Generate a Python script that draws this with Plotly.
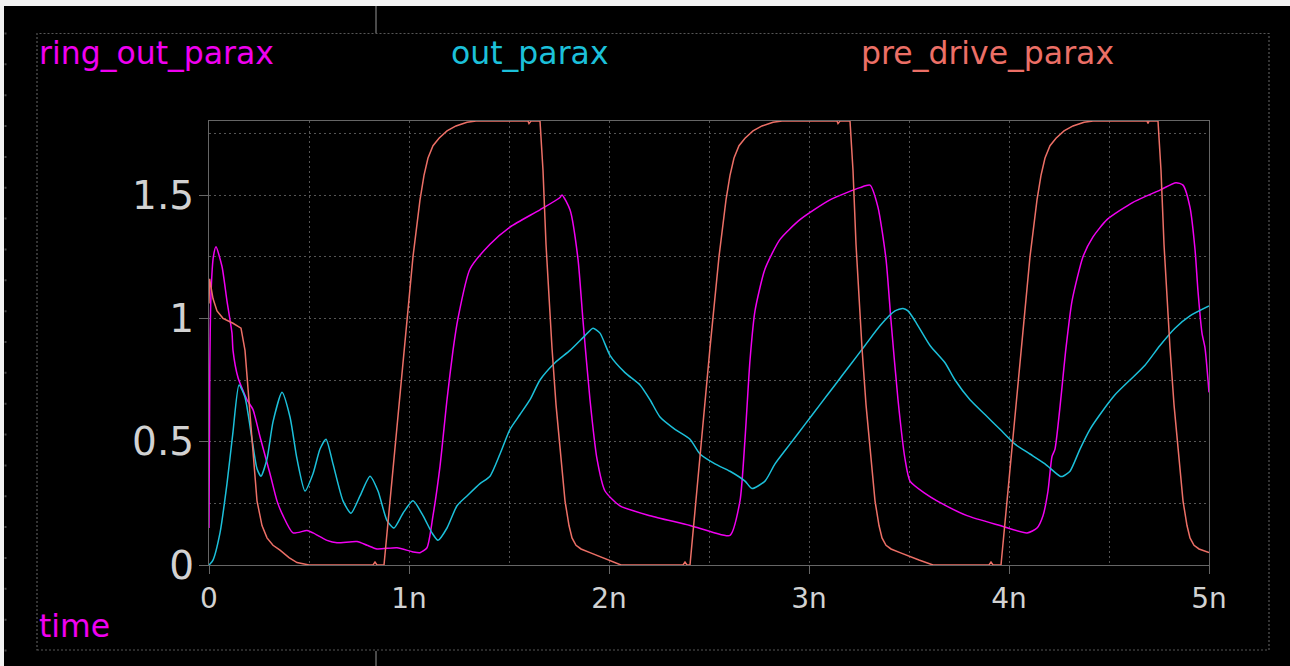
import plotly.graph_objects as go

# ---- series (time in ns, value in V) ----
series_names = ["ring_out_parax", "out_parax", "pre_drive_parax"]
series_colors = ["#f000f0", "#1cc0da", "#ec6f66"]

ring_t = [0.0, 0.004, 0.01, 0.022, 0.035, 0.065, 0.09, 0.115, 0.12, 0.145, 0.19, 0.22,
          0.255, 0.305, 0.34, 0.37, 0.42, 0.49, 0.52, 0.59, 0.64, 0.74, 0.79, 0.84,
          0.94, 1.02, 1.055, 1.09, 1.12, 1.155, 1.19, 1.22, 1.245, 1.305, 1.405, 1.505,
          1.655, 1.755, 1.765, 1.805, 1.845, 1.87, 1.905, 1.94, 1.98, 2.055, 2.205,
          2.405, 2.53, 2.605, 2.655, 2.68, 2.705, 2.73, 2.78, 2.855, 2.955, 3.105,
          3.255, 3.305, 3.345, 3.385, 3.41, 3.445, 3.48, 3.505, 3.58, 3.64, 3.79,
          3.955, 4.09, 4.14, 4.17, 4.195, 4.215, 4.23, 4.285, 4.315, 4.37, 4.42, 4.49,
          4.62, 4.755, 4.835, 4.87, 4.905, 4.93, 4.945, 4.965, 4.98, 5.0]
ring_v = [0.15, 0.8, 1.1, 1.25, 1.29, 1.21, 1.07, 0.94, 0.87, 0.76, 0.67, 0.63,
          0.52, 0.37, 0.26, 0.2, 0.13, 0.14, 0.13, 0.1, 0.09, 0.095, 0.08, 0.065,
          0.07, 0.053, 0.05, 0.07, 0.2, 0.4, 0.67, 0.87, 1.0, 1.2, 1.3, 1.37,
          1.44, 1.49, 1.5, 1.44, 1.24, 0.99, 0.67, 0.43, 0.3, 0.24, 0.2,
          0.16, 0.13, 0.12, 0.26, 0.51, 0.83, 1.03, 1.2, 1.32, 1.4, 1.48,
          1.53, 1.54, 1.45, 1.24, 0.99, 0.67, 0.43, 0.34, 0.29, 0.26, 0.2,
          0.16, 0.13, 0.15, 0.2, 0.3, 0.44, 0.47, 0.88, 1.07, 1.25, 1.33, 1.4,
          1.47, 1.52, 1.55, 1.54, 1.45, 1.28, 1.11, 0.94, 0.88, 0.7]

out_t = [0.0, 0.02, 0.055, 0.09, 0.12, 0.15, 0.18, 0.215, 0.24, 0.26, 0.29, 0.32,
         0.365, 0.405, 0.44, 0.48, 0.52, 0.555, 0.585, 0.62, 0.67, 0.71, 0.755,
         0.805, 0.845, 0.89, 0.925, 0.97, 1.02, 1.07, 1.115, 1.145, 1.19, 1.24,
         1.29, 1.355, 1.405, 1.455, 1.505, 1.555, 1.605, 1.655, 1.73, 1.805, 1.88,
         1.92, 1.955, 2.005, 2.08, 2.155, 2.205, 2.255, 2.33, 2.405, 2.455, 2.53,
         2.605, 2.68, 2.715, 2.78, 2.83, 2.905, 2.98, 3.055, 3.13, 3.205, 3.28,
         3.355, 3.43, 3.47, 3.495, 3.53, 3.605, 3.68, 3.73, 3.805, 3.88, 3.955,
         4.03, 4.105, 4.18, 4.255, 4.27, 4.305, 4.355, 4.405, 4.455, 4.53, 4.605,
         4.68, 4.755, 4.83, 4.905, 5.0]
out_v = [0.0, 0.02, 0.13, 0.33, 0.54, 0.73, 0.68, 0.51, 0.39, 0.36, 0.43, 0.58,
         0.7, 0.6, 0.43, 0.3, 0.37, 0.47, 0.51, 0.41, 0.26, 0.21, 0.28,
         0.36, 0.3, 0.18, 0.15, 0.21, 0.26, 0.2, 0.13, 0.1, 0.15, 0.24,
         0.28, 0.33, 0.36, 0.45, 0.55, 0.61, 0.67, 0.75, 0.82, 0.87, 0.93,
         0.96, 0.94, 0.85, 0.78, 0.73, 0.67, 0.6, 0.55, 0.51, 0.45, 0.41,
         0.38, 0.34, 0.31, 0.34, 0.41, 0.49, 0.57, 0.65, 0.73, 0.81, 0.89,
         0.97, 1.03, 1.04, 1.03, 0.99, 0.89, 0.82, 0.75, 0.67, 0.61, 0.55,
         0.49, 0.45, 0.41, 0.36, 0.36, 0.38, 0.47, 0.55, 0.61, 0.69, 0.75,
         0.81, 0.89, 0.96, 1.01, 1.05]

pre_t = [0.0, 0.003, 0.02, 0.04, 0.07, 0.12, 0.16, 0.18, 0.215, 0.24, 0.265, 0.29,
         0.32, 0.355, 0.40, 0.44, 0.5, 0.82, 0.83, 0.84, 0.875,
         0.975, 1.02, 1.055, 1.075, 1.095, 1.12, 1.15, 1.19, 1.235, 1.29, 1.335,
         1.595, 1.6, 1.61, 1.655, 1.67, 1.685, 1.70, 1.715, 1.735, 1.755, 1.78,
         1.80, 1.815, 1.835, 1.86, 1.905, 1.95, 2.0, 2.06,
         2.37, 2.38, 2.39, 2.405,
         2.505, 2.55, 2.585, 2.605, 2.625, 2.65, 2.68, 2.72, 2.765, 2.82, 2.865,
         3.14, 3.145, 3.155, 3.205, 3.22, 3.235, 3.25, 3.265, 3.285, 3.305, 3.33,
         3.35, 3.365, 3.385, 3.41, 3.455, 3.50, 3.55, 3.62,
         3.9, 3.91, 3.92, 3.96,
         4.06, 4.105, 4.14, 4.16, 4.18, 4.205, 4.235, 4.275, 4.32, 4.375, 4.42,
         4.69, 4.695, 4.70, 4.745, 4.76, 4.775, 4.79, 4.805, 4.825, 4.845, 4.87,
         4.89, 4.905, 4.925, 4.95, 5.0]
pre_v = [1.06, 1.16, 1.08, 1.03, 1.0, 0.98, 0.96, 0.87, 0.51, 0.26, 0.16, 0.11,
         0.08, 0.06, 0.03, 0.01, 0.0, 0.0, 0.012, 0.0, 0.0,
         0.88, 1.25, 1.48, 1.58, 1.65, 1.70, 1.73, 1.76, 1.78, 1.795, 1.8,
         1.8, 1.79, 1.8, 1.8, 1.6, 1.3, 1.07, 0.88, 0.65, 0.47, 0.26,
         0.16, 0.11, 0.08, 0.065, 0.05, 0.035, 0.02, 0.0,
         0.0, 0.012, 0.0, 0.0,
         0.88, 1.25, 1.48, 1.58, 1.65, 1.70, 1.73, 1.76, 1.78, 1.795, 1.8,
         1.8, 1.79, 1.8, 1.8, 1.6, 1.3, 1.07, 0.88, 0.65, 0.47, 0.26,
         0.16, 0.11, 0.08, 0.065, 0.05, 0.035, 0.02, 0.0,
         0.0, 0.012, 0.0, 0.0,
         0.88, 1.25, 1.48, 1.58, 1.65, 1.70, 1.73, 1.76, 1.78, 1.795, 1.8,
         1.8, 1.79, 1.8, 1.8, 1.6, 1.3, 1.07, 0.88, 0.65, 0.47, 0.26,
         0.16, 0.11, 0.08, 0.065, 0.05]

x_tick_vals = [0, 1, 2, 3, 4, 5]
x_tick_text = ["0", "1n", "2n", "3n", "4n", "5n"]
y_tick_vals = [0, 0.5, 1, 1.5]
y_tick_text = ["0", "0.5", "1", "1.5"]
x_axis_name = "time"

# ---- geometry ----
W, H = 1290, 666
ML, MR, MT, MB = 209, 81, 121, 101
PW, PH = W - ML - MR, H - MT - MB


def px_x(p):
    return (p - ML) / PW


def px_y(p):
    return (H - MB - p) / PH


FONT = "DejaVu Sans"
GRID = "#555555"
AXIS = "#666666"
TICKC = "#d2d2d2"

fig = go.Figure()
trace_specs = [
    (ring_t, ring_v, "spline"),
    (out_t, out_v, "spline"),
    (pre_t, pre_v, "linear"),
]
for (tt, vv, shp), name, col in zip(trace_specs, series_names, series_colors):
    fig.add_trace(go.Scatter(x=tt, y=vv, mode="lines", name=name,
                             line=dict(color=col, width=1.5, shape=shp, smoothing=0.6),
                             showlegend=False))

# series names across the top, axis name at bottom left
name_x = [37, 449, 859]
annotations = []
for nm, col, xp in zip(series_names, series_colors, name_x):
    annotations.append(dict(text=nm, x=px_x(xp), y=px_y(53), xref="paper", yref="paper",
                            xanchor="left", yanchor="middle", showarrow=False,
                            font=dict(family=FONT, size=31.5, color=col)))
annotations.append(dict(text=x_axis_name, x=px_x(37), y=px_y(626), xref="paper", yref="paper",
                        xanchor="left", yanchor="middle", showarrow=False,
                        font=dict(family=FONT, size=31.5, color=series_colors[0])))

shapes = [
    # light strips along the top and left edges
    dict(type="rect", xref="paper", yref="paper", x0=px_x(-2), x1=px_x(W + 2),
         y0=px_y(6), y1=px_y(-2), fillcolor="#f2f2f2", line=dict(width=0), layer="above"),
    dict(type="rect", xref="paper", yref="paper", x0=px_x(-2), x1=px_x(4),
         y0=px_y(H + 2), y1=px_y(-2), fillcolor="#f2f2f2", line=dict(width=0), layer="above"),
    # dotted frame around the panel
    dict(type="rect", xref="paper", yref="paper", x0=px_x(37), x1=px_x(1269),
         y0=px_y(650), y1=px_y(33.5), line=dict(color="#575757", width=1.2, dash="2px,2px"),
         fillcolor="rgba(0,0,0,0)", layer="below"),
    # pane divider stubs
    dict(type="line", xref="paper", yref="paper", x0=px_x(376), x1=px_x(376),
         y0=px_y(6), y1=px_y(33), line=dict(color="#4a4a4a", width=2)),
    dict(type="line", xref="paper", yref="paper", x0=px_x(376), x1=px_x(376),
         y0=px_y(651), y1=px_y(H + 2), line=dict(color="#4a4a4a", width=2)),
    # ruler marks on the far left
    dict(type="line", xref="paper", yref="paper", x0=px_x(5.5), x1=px_x(5.5),
         y0=px_y(32.5), y1=px_y(652), line=dict(color="#444444", width=2, dash="2px,28.85px")),
]

fig.update_layout(
    width=W, height=H,
    margin=dict(l=ML, r=MR, t=MT, b=MB, pad=0),
    paper_bgcolor="#000000", plot_bgcolor="#000000",
    font=dict(family=FONT, color=TICKC),
    annotations=annotations, shapes=shapes,
    xaxis=dict(range=[0, 5], tickmode="array", tickvals=x_tick_vals, ticktext=x_tick_text,
               showline=True, linecolor=AXIS, linewidth=1.2, mirror=True,
               ticks="outside", ticklen=8, tickwidth=1.2, tickcolor=AXIS,
               tickfont=dict(family=FONT, size=28, color=TICKC),
               showgrid=True, gridcolor=GRID, gridwidth=1, griddash="2px,3px",
               zeroline=False,
               minor=dict(tickmode="linear", tick0=0, dtick=0.5, showgrid=True,
                          gridcolor=GRID, gridwidth=1, griddash="2px,3px", ticks="")),
    yaxis=dict(range=[0, 1.8], tickmode="array", tickvals=y_tick_vals, ticktext=y_tick_text,
               showline=True, linecolor=AXIS, linewidth=1.2, mirror=True,
               ticks="outside", ticklen=9, tickwidth=1.2, tickcolor=AXIS,
               tickfont=dict(family=FONT, size=39, color=TICKC),
               ticklabelstandoff=-3,
               showgrid=True, gridcolor=GRID, gridwidth=1, griddash="2px,3px",
               zeroline=False,
               minor=dict(tickmode="linear", tick0=0, dtick=0.25, showgrid=True,
                          gridcolor=GRID, gridwidth=1, griddash="2px,3px", ticks="")),
)

fig.write_html("out.html")
